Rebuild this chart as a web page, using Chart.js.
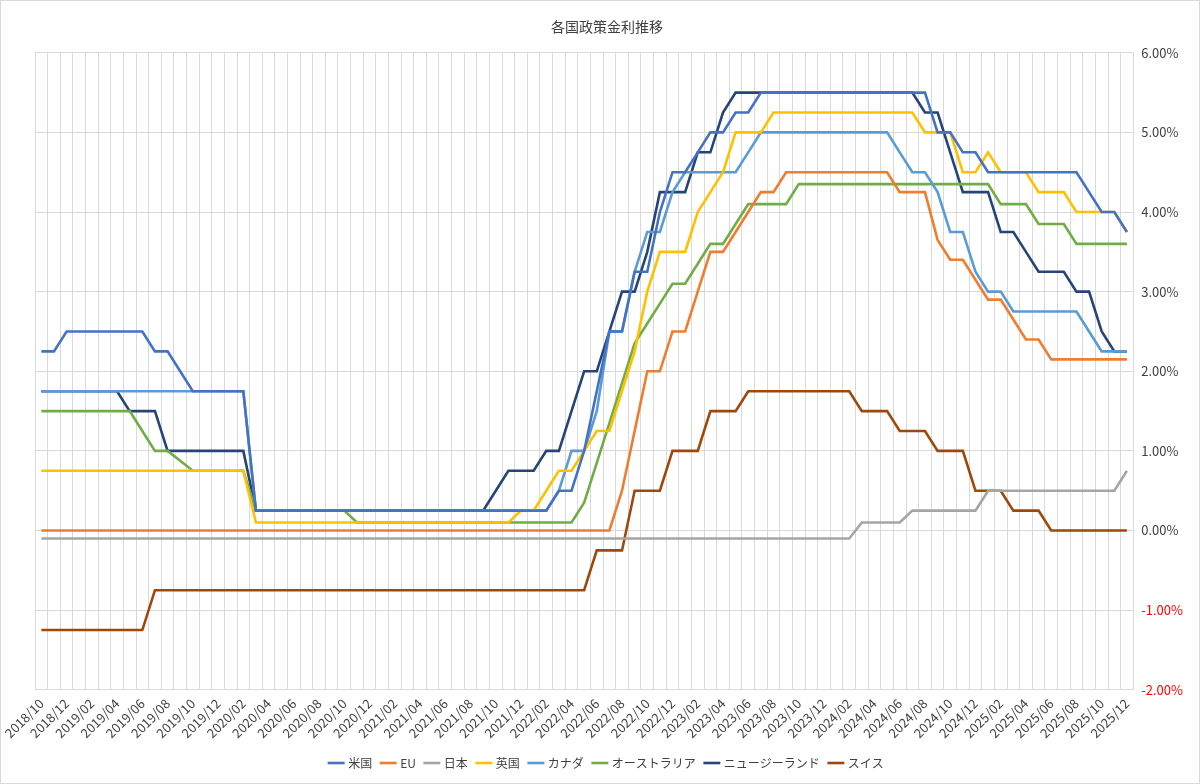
<!DOCTYPE html>
<html><head><meta charset="utf-8">
<script src="https://cdn.jsdelivr.net/npm/chart.js@4/dist/chart.umd.min.js"></script>
<style>html,body{margin:0;padding:0;background:#fff}#w{width:1198px;height:782px;border:1px solid #d9d9d9}</style>
</head><body><div id="w"><canvas id="c" width="1198" height="782"></canvas></div>
<script>
const categories = [];
const catYears = [2018,2019,2020,2021,2022,2023,2024,2025];
catYears.forEach(y=>{for(let m=(y===2018?10:1);m<=12;m++)categories.push(y+'/'+String(m).padStart(2,'0'));});

const us = [2.25,2.25,2.5,
 2.5,2.5,2.5,2.5,2.5,2.5,2.25,2.25,2.0,1.75,1.75,1.75,
 1.75,1.75,0.25,0.25,0.25,0.25,0.25,0.25,0.25,0.25,0.25,0.25,
 0.25,0.25,0.25,0.25,0.25,0.25,0.25,0.25,0.25,0.25,0.25,0.25,
 0.25,0.25,0.5,0.5,1.0,1.75,2.5,2.5,3.25,3.25,4.0,4.5,
 4.5,4.75,5.0,5.0,5.25,5.25,5.5,5.5,5.5,5.5,5.5,5.5,
 5.5,5.5,5.5,5.5,5.5,5.5,5.5,5.5,5.0,5.0,4.75,4.75,
 4.5,4.5,4.5,4.5,4.5,4.5,4.5,4.5,4.25,4.0,4.0,3.75];
const eu = [0,0,0,
 0,0,0,0,0,0,0,0,0,0,0,0,
 0,0,0,0,0,0,0,0,0,0,0,0,
 0,0,0,0,0,0,0,0,0,0,0,0,
 0,0,0,0,0,0,0,0.5,1.25,2.0,2.0,2.5,
 2.5,3.0,3.5,3.5,3.75,4.0,4.25,4.25,4.5,4.5,4.5,4.5,
 4.5,4.5,4.5,4.5,4.5,4.25,4.25,4.25,3.65,3.4,3.4,3.15,
 2.9,2.9,2.65,2.4,2.4,2.15,2.15,2.15,2.15,2.15,2.15,2.15];
const jp = [-0.1,-0.1,-0.1,
 -0.1,-0.1,-0.1,-0.1,-0.1,-0.1,-0.1,-0.1,-0.1,-0.1,-0.1,-0.1,
 -0.1,-0.1,-0.1,-0.1,-0.1,-0.1,-0.1,-0.1,-0.1,-0.1,-0.1,-0.1,
 -0.1,-0.1,-0.1,-0.1,-0.1,-0.1,-0.1,-0.1,-0.1,-0.1,-0.1,-0.1,
 -0.1,-0.1,-0.1,-0.1,-0.1,-0.1,-0.1,-0.1,-0.1,-0.1,-0.1,-0.1,
 -0.1,-0.1,-0.1,-0.1,-0.1,-0.1,-0.1,-0.1,-0.1,-0.1,-0.1,-0.1,
 -0.1,-0.1,0.1,0.1,0.1,0.1,0.25,0.25,0.25,0.25,0.25,0.25,
 0.5,0.5,0.5,0.5,0.5,0.5,0.5,0.5,0.5,0.5,0.5,0.75];
const uk = [0.75,0.75,0.75,
 0.75,0.75,0.75,0.75,0.75,0.75,0.75,0.75,0.75,0.75,0.75,0.75,
 0.75,0.75,0.1,0.1,0.1,0.1,0.1,0.1,0.1,0.1,0.1,0.1,
 0.1,0.1,0.1,0.1,0.1,0.1,0.1,0.1,0.1,0.1,0.1,0.25,
 0.25,0.5,0.75,0.75,1.0,1.25,1.25,1.75,2.25,3.0,3.5,3.5,
 3.5,4.0,4.25,4.5,5.0,5.0,5.0,5.25,5.25,5.25,5.25,5.25,
 5.25,5.25,5.25,5.25,5.25,5.25,5.25,5.0,5.0,5.0,4.5,4.5,
 4.75,4.5,4.5,4.5,4.25,4.25,4.25,4.0,4.0,4.0,4.0,3.75];
const ca = [1.75,1.75,1.75,
 1.75,1.75,1.75,1.75,1.75,1.75,1.75,1.75,1.75,1.75,1.75,1.75,
 1.75,1.75,0.25,0.25,0.25,0.25,0.25,0.25,0.25,0.25,0.25,0.25,
 0.25,0.25,0.25,0.25,0.25,0.25,0.25,0.25,0.25,0.25,0.25,0.25,
 0.25,0.25,0.5,1.0,1.0,1.5,2.5,2.5,3.25,3.75,3.75,4.25,
 4.5,4.5,4.5,4.5,4.5,4.75,5.0,5.0,5.0,5.0,5.0,5.0,
 5.0,5.0,5.0,5.0,5.0,4.75,4.5,4.5,4.25,3.75,3.75,3.25,
 3.0,3.0,2.75,2.75,2.75,2.75,2.75,2.75,2.5,2.25,2.25,2.25];
const au = [1.5,1.5,1.5,
 1.5,1.5,1.5,1.5,1.5,1.25,1.0,1.0,0.875,0.75,0.75,0.75,
 0.75,0.75,0.25,0.25,0.25,0.25,0.25,0.25,0.25,0.25,0.1,0.1,
 0.1,0.1,0.1,0.1,0.1,0.1,0.1,0.1,0.1,0.1,0.1,0.1,
 0.1,0.1,0.1,0.1,0.35,0.85,1.35,1.85,2.35,2.6,2.85,3.1,
 3.1,3.35,3.6,3.6,3.85,4.1,4.1,4.1,4.1,4.35,4.35,4.35,
 4.35,4.35,4.35,4.35,4.35,4.35,4.35,4.35,4.35,4.35,4.35,4.35,
 4.35,4.1,4.1,4.1,3.85,3.85,3.85,3.6,3.6,3.6,3.6,3.6];
const nz = [1.75,1.75,1.75,
 1.75,1.75,1.75,1.75,1.5,1.5,1.5,1.0,1.0,1.0,1.0,1.0,
 1.0,1.0,0.25,0.25,0.25,0.25,0.25,0.25,0.25,0.25,0.25,0.25,
 0.25,0.25,0.25,0.25,0.25,0.25,0.25,0.25,0.25,0.5,0.75,0.75,
 0.75,1.0,1.0,1.5,2.0,2.0,2.5,3.0,3.0,3.5,4.25,4.25,
 4.25,4.75,4.75,5.25,5.5,5.5,5.5,5.5,5.5,5.5,5.5,5.5,
 5.5,5.5,5.5,5.5,5.5,5.5,5.5,5.25,5.25,4.75,4.25,4.25,
 4.25,3.75,3.75,3.5,3.25,3.25,3.25,3.0,3.0,2.5,2.25,2.25];
const ch = [-1.25,-1.25,-1.25,
 -1.25,-1.25,-1.25,-1.25,-1.25,-1.25,-0.75,-0.75,-0.75,-0.75,-0.75,-0.75,
 -0.75,-0.75,-0.75,-0.75,-0.75,-0.75,-0.75,-0.75,-0.75,-0.75,-0.75,-0.75,
 -0.75,-0.75,-0.75,-0.75,-0.75,-0.75,-0.75,-0.75,-0.75,-0.75,-0.75,-0.75,
 -0.75,-0.75,-0.75,-0.75,-0.75,-0.25,-0.25,-0.25,0.5,0.5,0.5,1.0,
 1.0,1.0,1.5,1.5,1.5,1.75,1.75,1.75,1.75,1.75,1.75,1.75,
 1.75,1.75,1.5,1.5,1.5,1.25,1.25,1.25,1.0,1.0,1.0,0.5,
 0.5,0.5,0.25,0.25,0.25,0,0,0,0,0,0,0];

const seriesNames = ['米国','EU','日本','英国','カナダ','オーストラリア','ニュージーランド','スイス'];
const seriesData = [us,eu,jp,uk,ca,au,nz,ch];
const seriesColors = ['#4472C4','#ED7D31','#A5A5A5','#FFC000','#5B9BD5','#70AD47','#264478','#9E480E'];
const FONT = '"Noto Sans CJK JP","Noto Sans",sans-serif';

new Chart(document.getElementById('c'), {
  type:'line',
  data:{labels:categories, datasets:seriesNames.map((n,k)=>({label:n,data:seriesData[k],borderColor:seriesColors[k],backgroundColor:seriesColors[k],borderWidth:2.6,pointRadius:0,tension:0,fill:false}))},
  options:{
    responsive:false, animation:false,
    layout:{padding:{left:22,right:8,top:9,bottom:4}},
    plugins:{
      title:{display:true,text:'各国政策金利推移',color:'#404040',font:{family:FONT,size:14,weight:'normal'},padding:{top:8,bottom:18}},
      legend:{position:'bottom',labels:{usePointStyle:true,pointStyle:'line',boxWidth:22,color:'#404040',font:{family:FONT,size:12},padding:10}},
      tooltip:{enabled:false}
    },
    scales:{
      x:{offset:true,grid:{offset:true,color:'#d9d9d9',drawTicks:false},border:{color:'#d9d9d9'},
         ticks:{autoSkip:false,maxRotation:45,minRotation:45,color:'#404040',font:{family:FONT,size:13},padding:6,
           callback:function(v,i){return i%2===0?categories[i]:'';}}},
      y:{position:'right',min:-2,max:6,grid:{color:'#d9d9d9',drawTicks:false},border:{display:false},
         ticks:{stepSize:1,padding:8,font:{family:FONT,size:13},
           color:ctx=>ctx.tick&&ctx.tick.value<0?'#FF0000':'#404040',
           callback:v=>v.toFixed(2)+'%'}}
    }
  }
});
</script></body></html>
